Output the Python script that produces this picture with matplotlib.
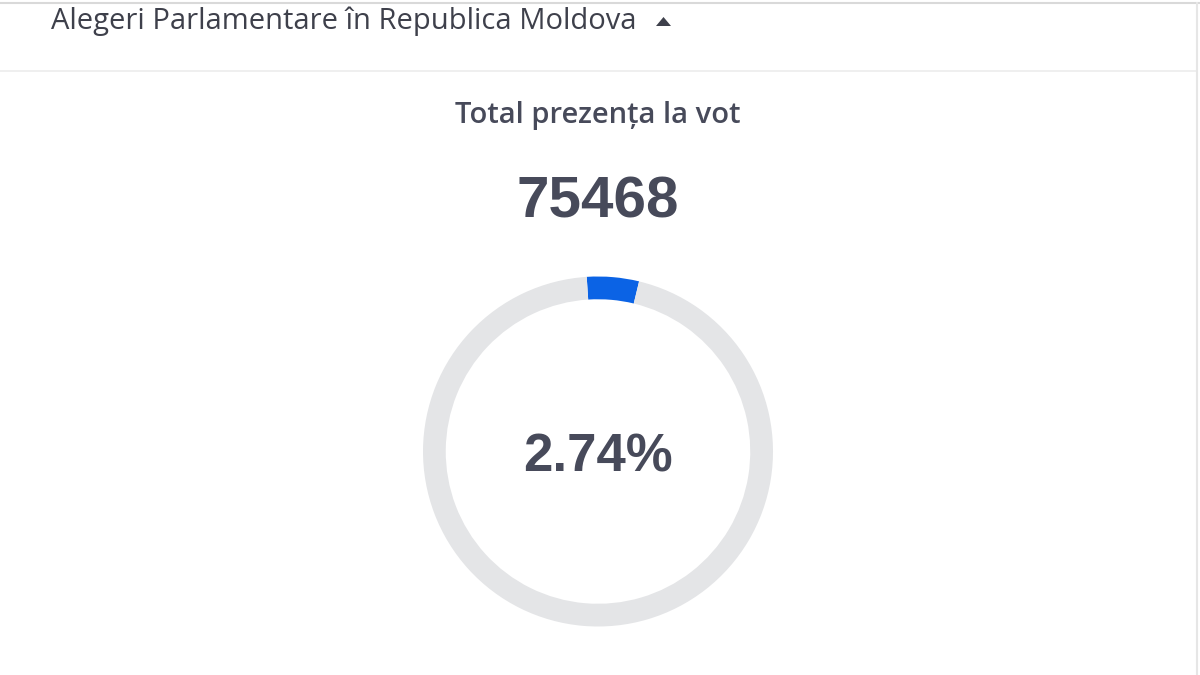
import matplotlib.pyplot as plt
from matplotlib.lines import Line2D
from matplotlib.patches import Polygon

# Data
header = "Alegeri Parlamentare în Republica Moldova"
title = "Total prezența la vot"
total_votes = 75468
turnout_pct = 2.74
# share of the ring filled in blue (in %)
arc_shown = [4.8, 95.2]
arc_start = 93.7  # degrees, slightly left of 12 o'clock

text_dark = "#474a5a"
ring_grey = "#e4e5e7"
blue = "#0b63e5"

fig = plt.figure(figsize=(12, 6.75), dpi=100)
fig.patch.set_facecolor("white")

W, H = 1200, 675
def fx(px):
    return px / W
def fy(py):
    return 1 - py / H

# borders / separators
fig.add_artist(Line2D([0, 1], [fy(3), fy(3)], color="#d9d9d9", lw=1.5))
fig.add_artist(Line2D([0, fx(1197)], [fy(71), fy(71)], color="#ececec", lw=1.2))
fig.add_artist(Line2D([fx(1197), fx(1197)], [0, fy(3)], color="#e6e6e6", lw=1.5))

# header
fig.text(fx(51), fy(21), header, fontsize=21, family="Open Sans",
         color="#3e404b", va="center", ha="left")
tri = Polygon([[fx(656), fy(26)], [fx(671), fy(26)], [fx(663.5), fy(17)]],
              closed=True, facecolor="#3e404b", edgecolor="none",
              transform=fig.transFigure)
fig.add_artist(tri)

# titles
fig.text(fx(598), fy(116), title, fontsize=21, family="Open Sans",
         fontweight="semibold", color=text_dark, ha="center", va="center")
fig.text(fx(598), fy(203), str(total_votes), fontsize=42, family="Liberation Sans",
         fontweight="bold", color=text_dark, ha="center", va="center")

# ring
ax = fig.add_axes([fx(423), fy(626.5), fx(350), 350 / H])
ax.pie(arc_shown, colors=[blue, ring_grey], startangle=arc_start, counterclock=False,
       radius=1, wedgeprops=dict(width=0.13, edgecolor="none"))
ax.set_xlim(-1, 1)
ax.set_ylim(-1, 1)
ax.axis("off")
ax.text(0, -0.035, f"{turnout_pct:.2f}%", fontsize=38, family="Liberation Sans",
        fontweight="bold", color=text_dark, ha="center", va="center")

fig.savefig("out.png", dpi=100, facecolor="white")
